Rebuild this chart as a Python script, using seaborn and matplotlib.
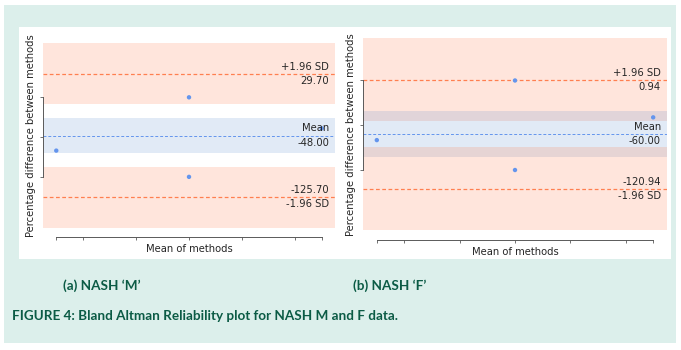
import matplotlib
matplotlib.use("Agg")
import matplotlib.pyplot as plt
import matplotlib.transforms as mtransforms
from matplotlib.patches import Rectangle
import numpy as np
import pandas as pd
import seaborn as sns

sns.set_style("ticks")

# panel (a) NASH 'M'
m_mean_of_methods = [1.5, 4.0, 4.0, 6.5]
m_pct_difference = [-67.0, 0.0, -100.0, -39.0]
m_bias = -48.00
m_upper_loa = 29.70
m_lower_loa = -125.70
m_bias_ci = 22.0
m_loa_ci = 38.3

# panel (b) NASH 'F'
f_mean_of_methods = [1.5, 4.0, 4.0, 6.5]
f_pct_difference = [-66.6, 0.0, -100.0, -41.2]
f_bias = -60.00
f_upper_loa = 0.94
f_lower_loa = -120.94
f_bias_ci = 25.5
f_loa_ci = 46.5

x_ticks = [1.5, 2, 3, 4, 5, 6, 6.5]
y_ticks = [-100, -50, 0]

panel_titles = ["(a) NASH \u2018M\u2019", "(b) NASH \u2018F\u2019"]
caption = "FIGURE 4: Bland Altman Reliability plot for NASH M and F data."

mean_colour = "#6495ED"
band_blue = "#5b8bd0"
loa_colour = "coral"
point_colour = "#6495ED"
teal = "#dcefeb"
green_text = "#0b5b45"

W, H = 681, 350
fig = plt.figure(figsize=(W / 100, H / 100), dpi=100, facecolor="white")


def px(x0, y0, x1, y1):
    # pixel box (top-left origin) -> figure fraction rect
    return [x0 / W, 1 - y1 / H, (x1 - x0) / W, (y1 - y0) / H]


r = px(4, 5, 676, 343)
fig.patches.append(Rectangle((r[0], r[1]), r[2], r[3], transform=fig.transFigure,
                             facecolor=teal, edgecolor="none", zorder=-10))
r = px(19, 27, 671, 259)
fig.patches.append(Rectangle((r[0], r[1]), r[2], r[3], transform=fig.transFigure,
                             facecolor="white", edgecolor="none", zorder=-9))


def bland_altman(ax, xs, ys, bias, upper, lower, bias_ci, loa_ci):
    df = pd.DataFrame({"mean": xs, "diff": ys})
    ax.axhspan(upper - loa_ci, upper + loa_ci, facecolor=loa_colour, alpha=0.2, lw=0)
    ax.axhspan(bias - bias_ci, bias + bias_ci, facecolor=band_blue, alpha=0.18, lw=0)
    ax.axhspan(lower - loa_ci, lower + loa_ci, facecolor=loa_colour, alpha=0.2, lw=0)

    ax.axhline(bias, color=mean_colour, linestyle="--", lw=0.7, dashes=(3, 2))
    ax.axhline(upper, color=loa_colour, linestyle="--", lw=0.9, dashes=(3, 2))
    ax.axhline(lower, color=loa_colour, linestyle="--", lw=0.9, dashes=(3, 2))

    sns.scatterplot(data=df, x="mean", y="diff", ax=ax, color=point_colour,
                    s=10, edgecolor="none", zorder=3)

    trans = mtransforms.blended_transform_factory(ax.transAxes, ax.transData)
    off = mtransforms.offset_copy(trans, fig=fig, y=1.5, units="points")
    offd = mtransforms.offset_copy(trans, fig=fig, y=-1.5, units="points")
    fs = 7.2
    ax.text(0.98, upper, "+1.96 SD", ha="right", va="bottom", transform=off, fontsize=fs)
    ax.text(0.98, upper, f"{upper:.2f}", ha="right", va="top", transform=offd, fontsize=fs)
    ax.text(0.98, bias, "Mean", ha="right", va="bottom", transform=off, fontsize=fs)
    ax.text(0.98, bias, f"{bias:.2f}", ha="right", va="top", transform=offd, fontsize=fs)
    ax.text(0.98, lower, f"{lower:.2f}", ha="right", va="bottom", transform=off, fontsize=fs)
    ax.text(0.98, lower, "-1.96 SD", ha="right", va="top", transform=offd, fontsize=fs)

    ax.set_xticks(x_ticks)
    ax.set_yticks(y_ticks)
    ax.set_xticklabels([])
    ax.set_yticklabels([])
    ax.spines["top"].set_visible(False)
    ax.spines["right"].set_visible(False)
    ax.spines["bottom"].set_bounds(min(x_ticks), max(x_ticks))
    ax.spines["left"].set_bounds(min(y_ticks), max(y_ticks))
    for s in ("bottom", "left"):
        ax.spines[s].set_color("0.35")
        ax.spines[s].set_linewidth(0.7)
    ax.tick_params(length=2.2, width=0.6, color="0.35")
    ax.set_facecolor("none")
    ax.set_xlabel("Mean of methods", fontsize=7.2, labelpad=-1)
    ax.set_ylabel("Percentage difference between methods", fontsize=7.2, labelpad=-1)
    ax.margins(0.05)


ax1 = fig.add_axes(px(43, 34, 335, 237))
bland_altman(ax1, m_mean_of_methods, m_pct_difference, m_bias, m_upper_loa, m_lower_loa,
             m_bias_ci, m_loa_ci)
ax2 = fig.add_axes(px(363, 28.4, 667, 240))
bland_altman(ax2, f_mean_of_methods, f_pct_difference, f_bias, f_upper_loa, f_lower_loa,
             f_bias_ci, f_loa_ci)

cap_font = ["Lato", "DejaVu Sans"]
fig.text(102 / W, 1 - 286 / H, panel_titles[0], ha="center", va="center", fontsize=9.7,
         fontweight="bold", color=green_text, family=cap_font)
fig.text(390 / W, 1 - 286 / H, panel_titles[1], ha="center", va="center", fontsize=9.7,
         fontweight="bold", color=green_text, family=cap_font)
fig.text(12 / W, 1 - 316 / H, caption, ha="left", va="center", fontsize=9.7,
         fontweight="bold", color=green_text, family=cap_font)

fig.savefig("out.png", dpi=100, facecolor="white")
